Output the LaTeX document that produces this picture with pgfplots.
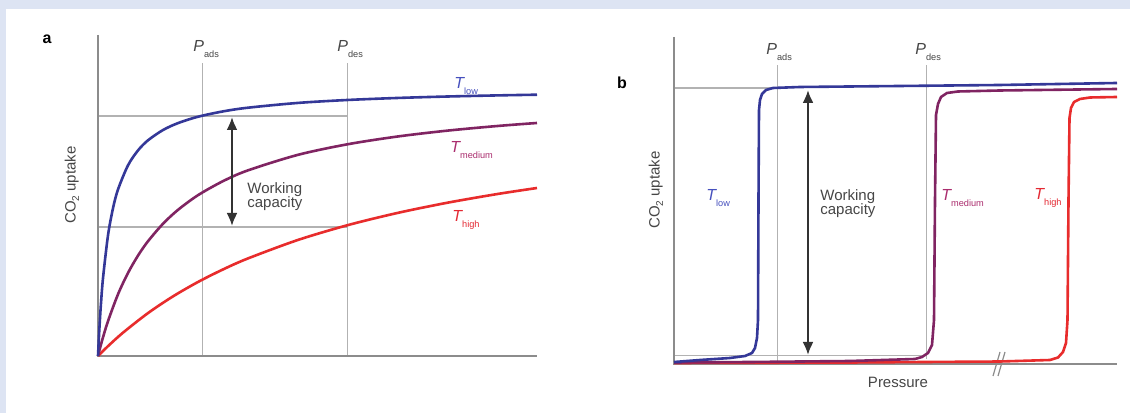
\documentclass[border=0pt]{standalone}
\usepackage{pgfplots}
\pgfplotsset{compat=1.18}
\usepackage{fontspec}
\setmainfont{Liberation Sans}
\usetikzlibrary{arrows.meta}
\definecolor{framecol}{RGB}{221,228,243}
\definecolor{cblue}{RGB}{52,56,152}
\definecolor{cpurple}{RGB}{128,36,98}
\definecolor{cred}{RGB}{232,44,44}
\definecolor{lblue}{RGB}{70,80,190}
\definecolor{lpurple}{RGB}{170,45,110}
\definecolor{lred}{RGB}{228,40,50}
\definecolor{axgray}{RGB}{140,140,140}
\definecolor{grgray}{RGB}{178,178,178}
\definecolor{txgray}{RGB}{70,70,70}
\newcommand{\mylab}[2]{{\fontsize{8}{8}\selectfont\itshape #1}\raisebox{-0.6ex}{\fontsize{4.6}{5}\selectfont #2}}
\newcommand{\mycotwo}{CO\raisebox{-0.45ex}{\fontsize{5}{5}\selectfont 2} uptake}
\begin{document}
\begin{tikzpicture}
\fill[framecol] (0,0) rectangle (565pt,206.5pt);
\fill[white] (3pt,0) rectangle (565pt,202pt);
% ---------------- panel a ----------------
\begin{axis}[at={(49pt,28.5pt)}, anchor=south west, scale only axis,
  width=219.5pt, height=160.5pt, xmin=0, xmax=439, ymin=0, ymax=321,
  hide axis, clip=false]
\addplot[grgray, line width=0.5pt] coordinates {(104,0) (104,293)};
\addplot[grgray, line width=0.5pt] coordinates {(249,0) (249,293)};
\addplot[grgray, line width=0.7pt] coordinates {(0,240) (249,240)};
\addplot[grgray, line width=0.7pt] coordinates {(0,129) (249,129)};
\addplot[axgray, line width=0.8pt] coordinates {(0,321) (0,0) (439,0)};
\addplot[cred, line width=1.3pt, smooth] coordinates {
(0,0) (10,9.84) (25,23.33) (50,42.92) (75,59.62) (100,74.02) (125,86.56) (150,97.58)
(200,116.06) (250,130.93) (300,143.16) (350,153.39) (400,162.08) (439,168.00)};
\addplot[cpurple, line width=1.3pt, smooth] coordinates {
(0,0) (2,7.78) (5,18.65) (10,34.87) (20,61.73) (30,83.05) (40,100.39) (50,114.76)
(65,132.24) (80,146.15) (100,160.82) (125,174.85) (150,185.65) (200,201.18)
(250,211.81) (300,219.55) (350,225.43) (400,230.05) (439,233.02)};
\addplot[cblue, line width=1.3pt, smooth] coordinates {
(0,0) (1,20.25) (2,37.67) (3,52.79) (5,77.79) (10,120.65) (15,147.79) (20,166.51)
(30,190.67) (40,205.58) (50,215.70) (65,225.97) (80,232.90) (100,239.26) (125,244.60)
(150,248.30) (200,253.08) (250,256.04) (300,258.05) (350,259.51) (400,260.61) (439,261.30)};
\addplot[black!80, line width=1.1pt, arrows={Latex[length=6.5pt,width=5.5pt]-Latex[length=6.5pt,width=5.5pt]}] coordinates {(134,130) (134,239)};
\node[font=\bfseries] at (axis cs:-51,317) {\fontsize{8}{8}\selectfont a};
\node[anchor=west, inner sep=0pt, text=txgray] at (axis cs:95,307) {\mylab{P}{ads}};
\node[anchor=west, inner sep=0pt, text=txgray] at (axis cs:239,307) {\mylab{P}{des}};
\node[anchor=west, inner sep=0pt, text=lblue] at (axis cs:356,270) {\mylab{T}{low}};
\node[anchor=west, inner sep=0pt, text=lpurple] at (axis cs:352,206) {\mylab{T}{medium}};
\node[anchor=west, inner sep=0pt, text=lred] at (axis cs:354,136) {\mylab{T}{high}};
\node[anchor=west, inner sep=0pt, align=left, text=txgray, font=\fontsize{7.5}{7}\selectfont] at (axis cs:149,159) {Working\\capacity};
\node[rotate=90, text=txgray, font=\fontsize{7.5}{8}\selectfont] at (axis cs:-26,171) {\mycotwo};
\end{axis}
% ---------------- panel b ----------------
\begin{axis}[at={(337pt,24.5pt)}, anchor=south west, scale only axis,
  width=221.5pt, height=163.5pt, xmin=0, xmax=443, ymin=0, ymax=327,
  hide axis, clip=false]
\addplot[grgray, line width=0.5pt] coordinates {(103,2) (103,299)};
\addplot[grgray, line width=0.5pt] coordinates {(252,5) (252,299)};
\addplot[grgray, line width=0.6pt] coordinates {(0,276) (103,276)};
\addplot[grgray, line width=0.5pt] coordinates {(0,8) (252,8)};
\addplot[axgray, line width=0.8pt] coordinates {(0,327) (0,0) (443,0)};
\addplot[axgray, line width=0.6pt] coordinates {(319,-12) (326,12)};
\addplot[axgray, line width=0.6pt] coordinates {(324,-12) (331,12)};
\addplot[cred, line width=1.3pt, line join=round] coordinates {
(0,1) (176,1.5) (326,2.5) (376,4) (384,6.5) (389,12) (392,21) (393.5,44) (394.5,164)
(395.5,246) (397,256) (400,262) (406,265) (416,266.5) (443,267)};
\addplot[cpurple, line width=1.3pt, line join=round] coordinates {
(0,1.5) (76,2) (176,3) (241,5) (248,7) (254,11) (258,19) (260,44) (261,164) (262,249)
(264,260) (267,267) (273,271) (284,272.5) (326,273.5) (443,275)};
\addplot[cblue, line width=1.3pt, line join=round] coordinates {
(0,2) (26,4) (56,6) (71,8) (78,11) (81,16) (83,26) (84,44) (84.5,164) (85,254)
(86,264) (88,270) (92,274) (99,276) (126,277) (226,278) (326,279) (443,281)};
\addplot[black!80, line width=1.1pt, arrows={Latex[length=6.5pt,width=5.5pt]-Latex[length=6.5pt,width=5.5pt]}] coordinates {(134,9) (134,274)};
\node[font=\bfseries] at (axis cs:-52,281) {\fontsize{8}{8}\selectfont b};
\node[anchor=west, inner sep=0pt, text=txgray] at (axis cs:92,312) {\mylab{P}{ads}};
\node[anchor=west, inner sep=0pt, text=txgray] at (axis cs:241,312) {\mylab{P}{des}};
\node[anchor=west, inner sep=0pt, text=lblue] at (axis cs:32,166) {\mylab{T}{low}};
\node[anchor=west, inner sep=0pt, text=lpurple] at (axis cs:267,166) {\mylab{T}{medium}};
\node[anchor=west, inner sep=0pt, text=lred] at (axis cs:360,166) {\mylab{T}{high}};
\node[anchor=west, inner sep=0pt, align=left, text=txgray, font=\fontsize{7.5}{7}\selectfont] at (axis cs:146,160) {Working\\capacity};
\node[rotate=90, text=txgray, font=\fontsize{7.5}{8}\selectfont] at (axis cs:-18,174) {\mycotwo};
\node[text=txgray, font=\fontsize{7.5}{8}\selectfont] at (axis cs:224,-18) {Pressure};
\end{axis}
\end{tikzpicture}
\end{document}
